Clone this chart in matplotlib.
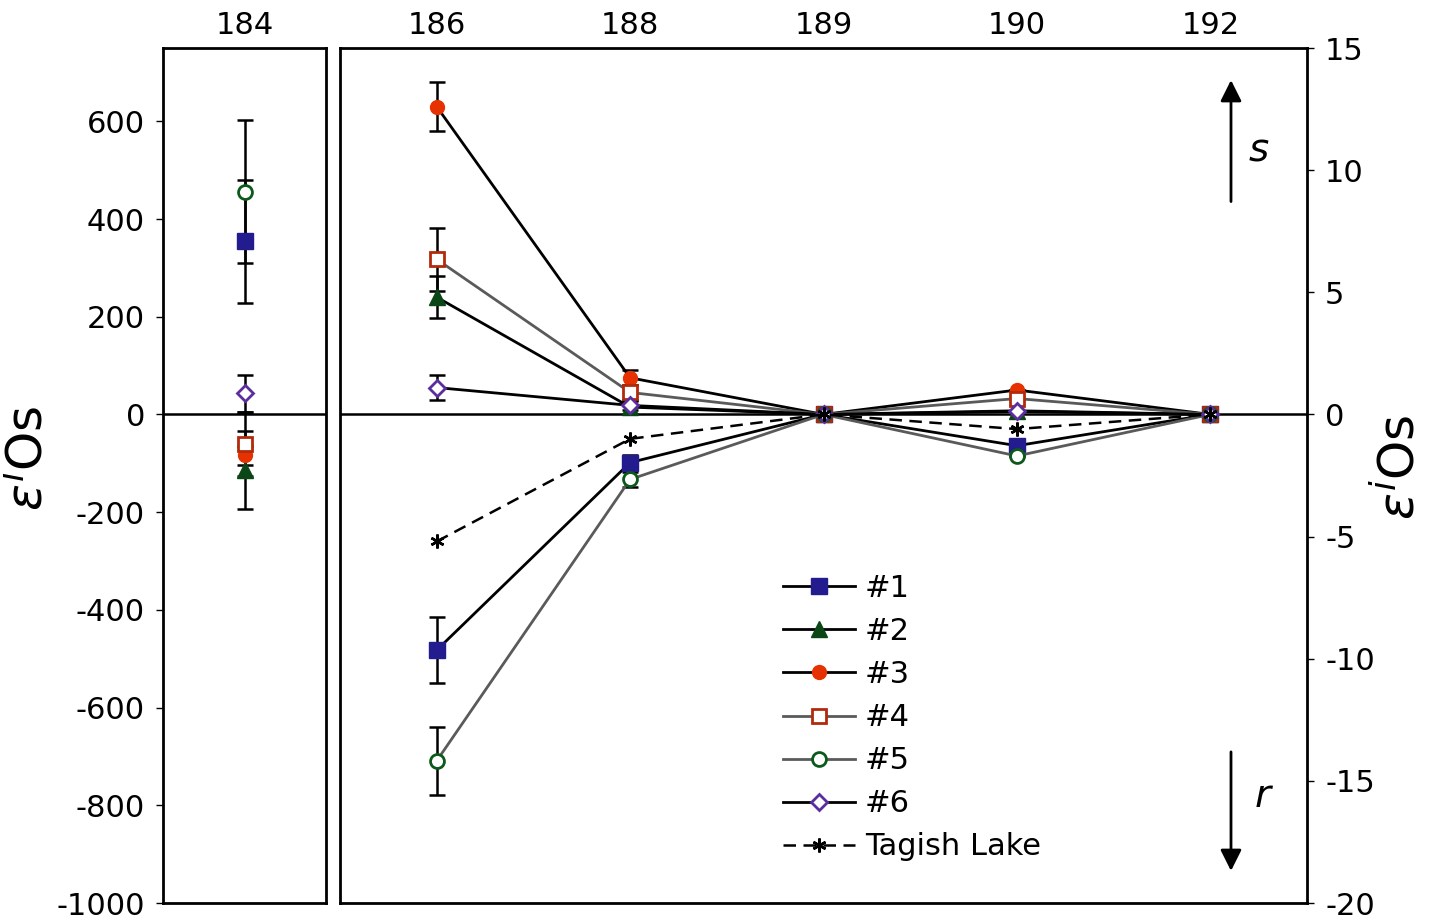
import matplotlib.pyplot as plt

plt.rcParams['font.family'] = ['DejaVu Sans']
plt.rcParams['axes.unicode_minus'] = False
plt.rcParams['mathtext.fontset'] = 'dejavusans'

#==========
# Datos.
#==========

masas_izq = ['184']
masas_der = ['186', '188', '189', '190', '192']

# Panel 184 (escala grande)
m1_184, e1_184 = [354], [125]
m2_184, e2_184 = [-113], [80]
m3_184, e3_184 = [-84], [20]
m4_184, e4_184 = [-61], [65]
m5_184, e5_184 = [456], [146]
m6_184, e6_184 = [43], [38]

# Panel 186-192
m1 = [-9.65, -1.97, 0.0, -1.28, 0.0]
e1 = [1.35, 0.3, 0.0, 0.0, 0.0]
m2 = [4.8, 0.3, 0.0, 0.15, 0.0]
e2 = [0.86, 0.3, 0.0, 0.0, 0.0]
m3 = [12.6, 1.5, 0.0, 1.0, 0.0]
e3 = [1.0, 0.3, 0.0, 0.0, 0.0]
m4 = [6.35, 0.9, 0.0, 0.65, 0.0]
e4 = [1.29, 0.3, 0.0, 0.0, 0.0]
m5 = [-14.18, -2.66, 0.0, -1.7, 0.0]
e5 = [1.39, 0.3, 0.0, 0.0, 0.0]
m6 = [1.1, 0.37, 0.0, 0.12, 0.0]
e6 = [0.51, 0.2, 0.0, 0.0, 0.0]
tagish = [-5.2, -1.0, 0.0, -0.6, 0.0]

etiquetas = ['#1', '#2', '#3', '#4', '#5', '#6', 'Tagish Lake']

#=================
# Estilos.
#=================

estilos = [
    dict(marker='s', ms=11, mfc='#221c8e', mec='#221c8e', color='black'),
    dict(marker='^', ms=11, mfc='#0b4716', mec='#0b4716', color='black'),
    dict(marker='o', ms=10, mfc='#e63200', mec='#e63200', color='black'),
    dict(marker='s', ms=10.5, mfc='white', mec='#b22a0c', mew=2, color='#5a5a5a'),
    dict(marker='o', ms=10, mfc='white', mec='#0b5a1c', mew=2, color='#5a5a5a'),
    dict(marker='D', ms=8.5, mfc='white', mec='#5b2ea0', mew=2, color='black'),
]
err_kw = dict(ecolor='black', elinewidth=1.8, capsize=5.5, capthick=1.8)
fs = 22

fig = plt.figure(figsize=(14.39, 9.22), dpi=100)
ax1 = fig.add_axes([163 / 1439, 19 / 922, 163 / 1439, 855 / 922])
ax2 = fig.add_axes([340 / 1439, 19 / 922, 967 / 1439, 855 / 922])

#==================
# Panel izquierdo.
#==================

x1 = [0.5]
datos_izq = [(m1_184, e1_184), (m2_184, e2_184), (m3_184, e3_184),
             (m4_184, e4_184), (m5_184, e5_184), (m6_184, e6_184)]
ax1.axhline(0, color='black', lw=1.8, zorder=1)
for (y, e) in datos_izq:
    ax1.errorbar(x1, y, yerr=e, fmt='none', zorder=2, **err_kw)
for (y, e), st in zip(datos_izq, estilos):
    ax1.plot(x1, y, ls='none', zorder=3, **{k: v for k, v in st.items() if k != 'color'})

ax1.set_xlim(0, 1)
ax1.set_ylim(-1000, 750)
ax1.set_yticks(range(-1000, 601, 200))
ax1.set_xticks(x1)
ax1.set_xticklabels(masas_izq)
ax1.xaxis.tick_top()
ax1.tick_params(axis='x', length=0, labelsize=fs, pad=6)
ax1.tick_params(axis='y', length=5, width=1, labelsize=fs, pad=8)
ax1.set_ylabel(r'$\varepsilon^{i}$Os', fontsize=36)
ax1.yaxis.set_label_coords(-0.675, 0.52)

#==================
# Panel derecho.
#==================

x2 = [0.5, 1.5, 2.5, 3.5, 4.5]
datos_der = [(m1, e1), (m2, e2), (m3, e3), (m4, e4), (m5, e5), (m6, e6)]
ax2.axhline(0, color='black', lw=1.8, zorder=1)
for (y, e) in datos_der:
    ax2.errorbar(x2, y, yerr=e, fmt='none', zorder=2, **err_kw)
for (y, e), st, lab in zip(datos_der, estilos, etiquetas):
    ax2.plot(x2, y, lw=2, zorder=3, label=lab, **st)
ax2.plot(x2, tagish, color='black', ls=(0, (5, 3)), lw=1.8, marker=(6, 2, 0),
         ms=10, mew=1.8, zorder=3, label=etiquetas[-1])

ax2.set_xlim(0, 5)
ax2.set_ylim(-20, 15)
ax2.set_yticks(range(-20, 16, 5))
ax2.set_xticks(x2)
ax2.set_xticklabels(masas_der)
ax2.xaxis.tick_top()
ax2.yaxis.tick_right()
ax2.yaxis.set_label_position('right')
ax2.tick_params(axis='x', length=0, labelsize=fs, pad=6)
ax2.tick_params(axis='y', length=5, width=1, labelsize=fs, pad=8)
ax2.set_ylabel(r'$\varepsilon^{i}$Os', fontsize=36, rotation=90)
ax2.yaxis.set_label_coords(1.07, 0.51)

for ax in (ax1, ax2):
    for sp in ax.spines.values():
        sp.set_linewidth(2)

# Flechas s / r
flecha = dict(arrowstyle='-|>', mutation_scale=32, lw=2, color='black')
ax2.annotate('', xy=(4.607, 13.8), xytext=(4.607, 8.6), arrowprops=flecha)
ax2.annotate('', xy=(4.607, -18.8), xytext=(4.607, -13.7), arrowprops=flecha)
ax2.text(4.70, 10.8, 's', fontsize=28, style='italic', ha='left', va='center')
ax2.text(4.73, -15.6, 'r', fontsize=28, style='italic', ha='left', va='center')

# Leyenda
ax2.legend(loc='upper left', bbox_to_anchor=(0.4455, 0.399), frameon=False,
           fontsize=fs, handlelength=2.35, handletextpad=0.33, labelspacing=0.46,
           borderaxespad=0)

fig.savefig('out.png', dpi=100)
